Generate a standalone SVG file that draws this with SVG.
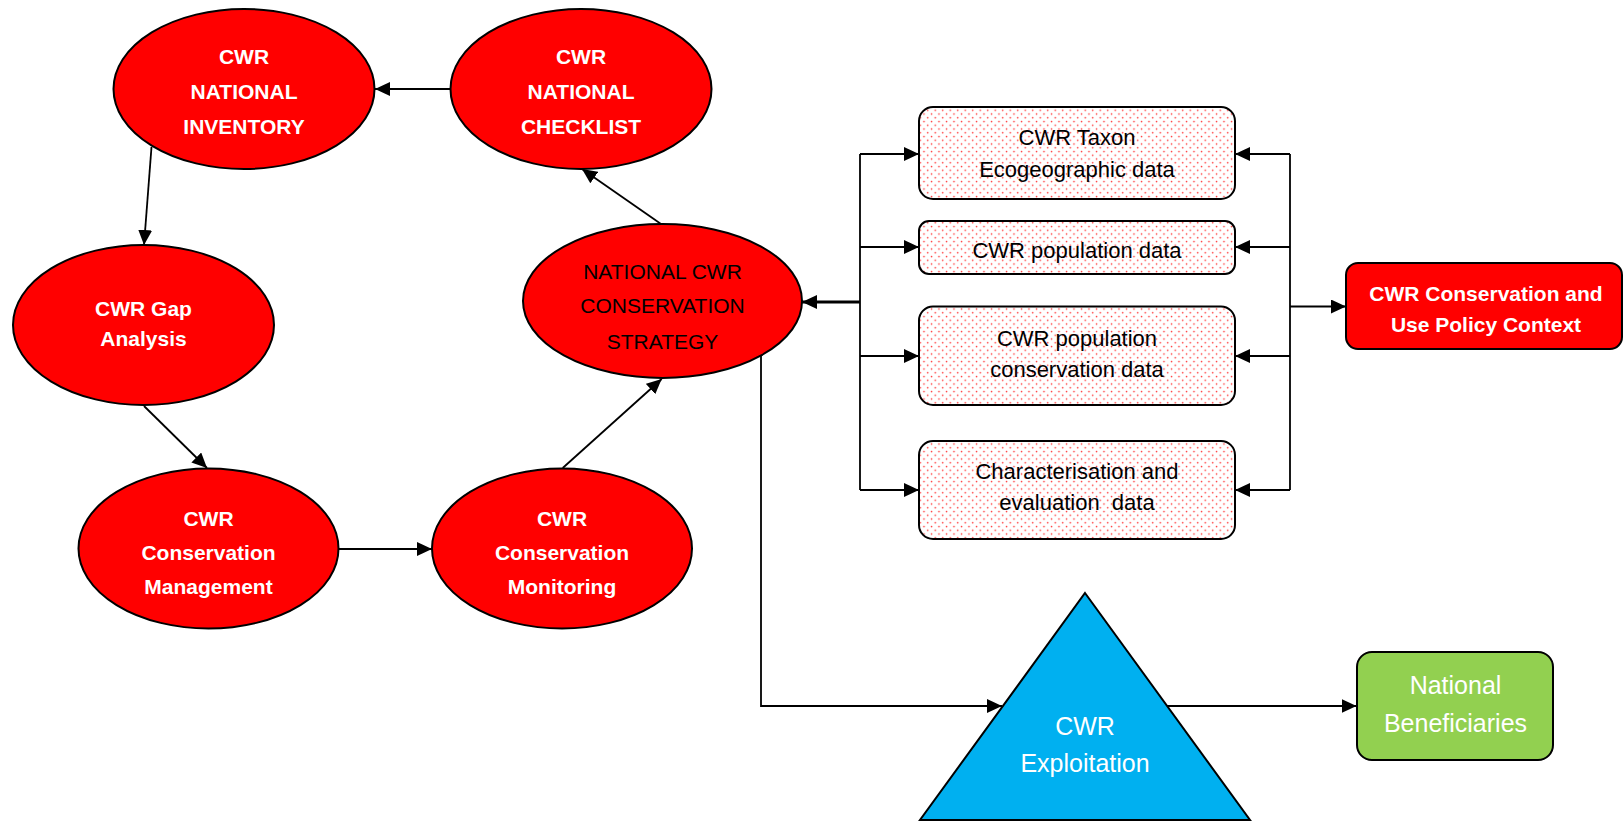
<svg xmlns="http://www.w3.org/2000/svg" width="1624" height="822" viewBox="0 0 1624 822">
<style>
.ell{fill:#FF0000;stroke:#000;stroke-width:2}
.wb{font-family:"Liberation Sans",Arial,sans-serif;font-weight:bold;font-size:21px;fill:#fff;text-anchor:middle}
.bk{font-family:"Liberation Sans",Arial,sans-serif;font-size:21px;fill:#000;text-anchor:middle}
.bx{fill:url(#dots);stroke:#000;stroke-width:2}
.bt{font-family:"Liberation Sans",Arial,sans-serif;font-size:22px;fill:#000;text-anchor:middle}
.wt{font-family:"Liberation Sans",Arial,sans-serif;font-size:25px;fill:#fff;text-anchor:middle}
.ln{fill:none;stroke:#000;stroke-width:1.8}
.la{fill:none;stroke:#000;stroke-width:1.8;marker-end:url(#ah)}
</style>
<defs>
<pattern id="dots" width="7.5" height="7.5" patternUnits="userSpaceOnUse">
<rect width="7.5" height="7.5" fill="#fff"/>
<circle cx="1.5" cy="1.5" r="0.8" fill="#FF3030"/>
<circle cx="5.25" cy="5.25" r="0.8" fill="#FF3030"/>
</pattern>
<marker id="ah" markerUnits="userSpaceOnUse" markerWidth="16" markerHeight="14" refX="15" refY="7" orient="auto">
<path d="M0,0 L15,7 L0,14 Z" fill="#000"/>
</marker>
</defs>
<g id="connectors">
<line class="la" x1="450" y1="89" x2="375" y2="89"/>
<line class="la" x1="661" y1="224" x2="582" y2="169"/>
<line class="la" x1="151.5" y1="147" x2="144" y2="245"/>
<line class="la" x1="144" y1="406" x2="207" y2="468"/>
<line class="la" x1="338.5" y1="549" x2="432" y2="549"/>
<line class="la" x1="562.7" y1="468" x2="661.7" y2="379"/>
<line class="ln" x1="860" y1="154" x2="860" y2="490"/>
<line x1="860" y1="302" x2="802" y2="302" stroke="#000" stroke-width="3" marker-end="url(#ah)"/>
<line class="la" x1="860" y1="154" x2="919" y2="154"/>
<line class="la" x1="860" y1="247" x2="919" y2="247"/>
<line class="la" x1="860" y1="356" x2="919" y2="356"/>
<line class="la" x1="860" y1="490" x2="919" y2="490"/>
<line class="ln" x1="1290" y1="154" x2="1290" y2="490"/>
<line class="la" x1="1290" y1="154" x2="1235" y2="154"/>
<line class="la" x1="1290" y1="247" x2="1235" y2="247"/>
<line class="la" x1="1290" y1="356" x2="1235" y2="356"/>
<line class="la" x1="1290" y1="490" x2="1235" y2="490"/>
<line class="la" x1="1290" y1="306.5" x2="1346" y2="306.5"/>
<polyline class="la" points="761,355.5 761,706 1002,706"/>
<line class="la" x1="1167" y1="706" x2="1356.5" y2="706"/>
</g>
<g id="inventory">
<ellipse class="ell" cx="244" cy="89" rx="130.5" ry="80"/>
<text class="wb" x="244" y="64">CWR</text>
<text class="wb" x="244" y="99">NATIONAL</text>
<text class="wb" x="244" y="134">INVENTORY</text>
</g>
<g id="checklist">
<ellipse class="ell" cx="581" cy="89" rx="130.5" ry="80"/>
<text class="wb" x="581" y="64">CWR</text>
<text class="wb" x="581" y="99">NATIONAL</text>
<text class="wb" x="581" y="134">CHECKLIST</text>
</g>
<g id="gap">
<ellipse class="ell" cx="143.5" cy="325" rx="130.5" ry="80"/>
<text class="wb" x="143.5" y="316">CWR Gap</text>
<text class="wb" x="143.5" y="346">Analysis</text>
</g>
<g id="management">
<ellipse class="ell" cx="208.5" cy="548.5" rx="130" ry="80"/>
<text class="wb" x="208.5" y="525.5">CWR</text>
<text class="wb" x="208.5" y="559.5">Conservation</text>
<text class="wb" x="208.5" y="593.5">Management</text>
</g>
<g id="monitoring">
<ellipse class="ell" cx="562" cy="548.5" rx="130" ry="80"/>
<text class="wb" x="562" y="525.5">CWR</text>
<text class="wb" x="562" y="559.5">Conservation</text>
<text class="wb" x="562" y="593.5">Monitoring</text>
</g>
<g id="strategy">
<ellipse class="ell" cx="662.5" cy="301" rx="139.5" ry="77"/>
<text class="bk" x="662.5" y="278.5">NATIONAL CWR</text>
<text class="bk" x="662.5" y="312.5">CONSERVATION</text>
<text class="bk" x="662.5" y="348.5">STRATEGY</text>
</g>
<g id="taxon">
<rect class="bx" x="919" y="107" width="316" height="92" rx="14"/>
<text class="bt" x="1077" y="145">CWR Taxon</text>
<text class="bt" x="1077" y="177">Ecogeographic data</text>
</g>
<g id="population">
<rect class="bx" x="919" y="221" width="316" height="53" rx="10"/>
<text class="bt" x="1077" y="258">CWR population data</text>
</g>
<g id="popconservation">
<rect class="bx" x="919" y="306.5" width="316" height="98.5" rx="14"/>
<text class="bt" x="1077" y="345.5">CWR population</text>
<text class="bt" x="1077" y="376.5">conservation data</text>
</g>
<g id="characterisation">
<rect class="bx" x="919" y="441" width="316" height="98" rx="14"/>
<text class="bt" x="1077" y="479">Characterisation and</text>
<text class="bt" x="1077" y="510" xml:space="preserve">evaluation  data</text>
</g>
<g id="policy">
<rect x="1346" y="263" width="276" height="86" rx="12" fill="#FF0000" stroke="#000" stroke-width="2"/>
<text class="wb" x="1486" y="300.5">CWR Conservation and</text>
<text class="wb" x="1486" y="331.5">Use Policy Context</text>
</g>
<g id="exploitation">
<polygon points="1085,593 1250,820 920,820" fill="#00B0F0" stroke="#000" stroke-width="2"/>
<text class="wt" x="1085" y="735">CWR</text>
<text class="wt" x="1085" y="772">Exploitation</text>
</g>
<g id="beneficiaries">
<rect x="1357" y="652" width="196" height="108" rx="15" fill="#92D050" stroke="#000" stroke-width="2"/>
<text class="wt" x="1455.5" y="694">National</text>
<text class="wt" x="1455.5" y="731.5">Beneficiaries</text>
</g>
</svg>
